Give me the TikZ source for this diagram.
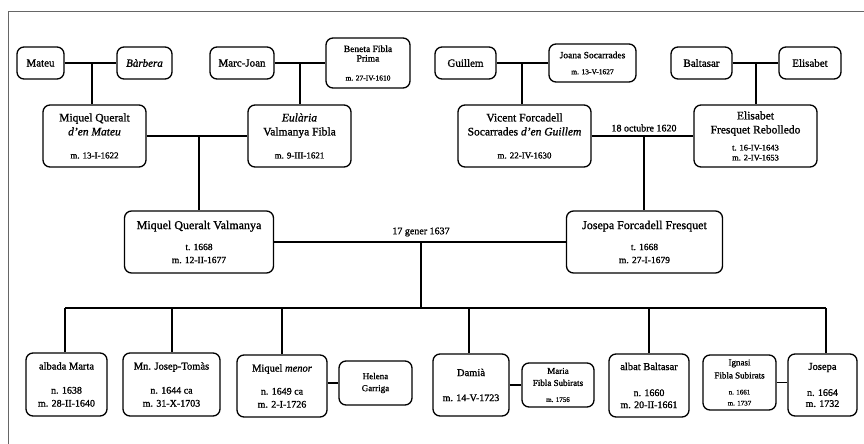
\documentclass[tikz,border=0pt]{standalone}
\usepackage{fontspec}
\setmainfont{Liberation Serif}[FakeBold=1.2]
\newcommand\fsz[2]{\fontsize{#1}{#2}\selectfont}
\begin{document}
\begin{tikzpicture}[x=1pt,y=-1pt,
  pbox/.style={draw, rounded corners=7pt, line width=1.3pt, align=center, inner sep=0pt},
  conn/.style={line width=1.3pt},
  frameline/.style={draw=gray!80!black, line width=0.9pt},
  mlabel/.style={font=\fsz{10}{12}, inner sep=0pt}]
\useasboundingbox (0,0) rectangle (864,444);
\draw[frameline] (8,444) -- (8,11) -- (864,11);

% ---- top row, left ----
\node[pbox, minimum width=47pt, minimum height=32pt, font=\fsz{11}{13}] (mateu) at (40.5,63) {Mateu};
\node[pbox, minimum width=55pt, minimum height=32pt, font=\fsz{11}{13}] (barbera) at (144.5,63) {\textit{Bàrbera}};
\node[pbox, minimum width=64pt, minimum height=32pt, font=\fsz{11}{13}] (marcjoan) at (242,63) {Marc-Joan};
\node[pbox, minimum width=84pt, minimum height=50pt, font=\fsz{9.5}{9.5}] (beneta) at (368,63) {Beneta Fibla\\Prima\\[9.5pt]{\fsz{7.5}{9}m. 27-IV-1610}};

\node[pbox, minimum width=103pt, minimum height=62pt, font=\fsz{11.5}{14}] (mqmateu) at (94.5,136) {Miquel Queralt\\\textit{d'en Mateu}\\[9pt]{\fsz{9}{11}m. 13-I-1622}};
\node[pbox, minimum width=103pt, minimum height=62pt, font=\fsz{11.5}{14}] (eularia) at (299.5,136) {\textit{Eulària}\\Valmanya Fibla\\[9pt]{\fsz{9}{11}m. 9-III-1621}};

% ---- top row, right ----
\node[pbox, minimum width=61pt, minimum height=32pt, font=\fsz{11}{13}] (guillem) at (465.5,63) {Guillem};
\node[pbox, minimum width=87pt, minimum height=38pt, font=\fsz{9.5}{10}] (joana) at (592.5,63) {Joana Socarrades\\[6pt]{\fsz{7.5}{9}m. 13-V-1627}};
\node[pbox, minimum width=61pt, minimum height=32pt, font=\fsz{11}{13}] (baltasar) at (701.5,63) {Baltasar};
\node[pbox, minimum width=62pt, minimum height=32pt, font=\fsz{11}{13}] (elisabet) at (810,63) {Elisabet};

\node[pbox, minimum width=133pt, minimum height=62pt, font=\fsz{11.5}{14}] (vicent) at (524.5,136) {Vicent Forcadell\\Socarrades \textit{d'en Guillem}\\[9pt]{\fsz{9}{11}m. 22-IV-1630}};
\node[pbox, minimum width=123pt, minimum height=62pt, font=\fsz{11.5}{14}] (elisabetfr) at (755.5,136) {Elisabet\\Fresquet Rebolledo\\[3pt]{\fsz{8.5}{10}t. 16-IV-1643}\\[-4pt]{\fsz{8.5}{10}m. 2-IV-1653}};

% ---- middle ----
\node[pbox, minimum width=149pt, minimum height=62pt, font=\fsz{12}{13}] (mqv) at (199,242) {Miquel Queralt Valmanya\\[8pt]{\fsz{9.5}{11}t. 1668}\\{\fsz{9.5}{11}m. 12-II-1677}};
\node[pbox, minimum width=156pt, minimum height=62pt, font=\fsz{12}{13}] (josepaff) at (644.5,242) {Josepa Forcadell Fresquet\\[8pt]{\fsz{9.5}{11}t. 1668}\\{\fsz{9.5}{11}m. 27-I-1679}};

% ---- children ----
\node[pbox, minimum width=81pt, minimum height=63pt, font=\fsz{10.5}{13}] (albada) at (66.5,384.5) {albada Marta\\[11pt]{\fsz{10}{12}n. 1638}\\{\fsz{10}{12}m. 28-II-1640}};
\node[pbox, minimum width=97pt, minimum height=63pt, font=\fsz{10.5}{13}] (josep) at (171.5,384.5) {Mn. Josep-Tomàs\\[11pt]{\fsz{10}{12}n. 1644 ca}\\{\fsz{10}{12}m. 31-X-1703}};
\node[pbox, minimum width=90pt, minimum height=62pt, font=\fsz{10.5}{13}] (miqmenor) at (282,386) {Miquel \textit{menor}\\[10pt]{\fsz{10}{12}n. 1649 ca}\\{\fsz{10}{12}m. 2-I-1726}};
\node[pbox, minimum width=73pt, minimum height=44pt, font=\fsz{9}{12}] (helena) at (375.5,383) {Helena\\Garriga};
\node[pbox, minimum width=76pt, minimum height=62pt, font=\fsz{10.5}{13}] (damia) at (471,385) {Damià\\[12pt]{\fsz{10}{12}m. 14-V-1723}};
\node[pbox, minimum width=72pt, minimum height=44pt, font=\fsz{9}{12}] (maria) at (558,385) {Maria\\Fibla Subirats\\[4pt]{\fsz{7}{8}m. 1756}};
\node[pbox, minimum width=80pt, minimum height=63pt, font=\fsz{10.5}{13}] (albat) at (649,385.5) {albat Baltasar\\[13pt]{\fsz{10}{12}n. 1660}\\[-1pt]{\fsz{10}{12}m. 20-II-1661}};
\node[pbox, minimum width=73pt, minimum height=55pt, font=\fsz{9}{13}] (ignasi) at (739.5,382.5) {Ignasi\\Fibla Subirats\\[3pt]{\fsz{7}{8}n. 1661}\\[-2pt]{\fsz{7}{8}m. 1737}};
\node[pbox, minimum width=69pt, minimum height=62pt, font=\fsz{10.5}{13}] (josepa) at (822.5,385) {Josepa\\[13pt]{\fsz{10}{12}n. 1664}\\[-2pt]{\fsz{10}{12}m. 1732}};

% ---- marriage labels ----
\node[mlabel] (l1620) at (644,128) {18 octubre 1620};
\node[mlabel] (l1637) at (421,232) {17 gener 1637};

% ---- connectors ----
\coordinate (j1) at (92,63);
\coordinate (j2) at (300,63);
\coordinate (j3) at (199,136);
\coordinate (j4) at (522,63);
\coordinate (j5) at (756,63);
\coordinate (j6) at (644,136);
\coordinate (j7) at (421,242);
\coordinate (busl) at (65,308);
\coordinate (busr) at (826,308);
\coordinate (busm) at (421,308);

\draw[conn] (mateu) -- (barbera);
\draw[conn] (j1) -- (j1 |- mqmateu.north);
\draw[conn] (marcjoan) -- (beneta);
\draw[conn] (j2) -- (j2 |- eularia.north);
\draw[conn] (mqmateu) -- (eularia);
\draw[conn] (j3) -- (j3 |- mqv.north);

\draw[conn] (guillem) -- (joana);
\draw[conn] (j4) -- (j4 |- vicent.north);
\draw[conn] (baltasar) -- (elisabet);
\draw[conn] (j5) -- (j5 |- elisabetfr.north);
\draw[conn] (vicent) -- (elisabetfr);
\draw[conn] (j6) -- (j6 |- josepaff.north);

\draw[conn] (mqv) -- (josepaff);
\draw[conn] (j7) -- (busm);
\draw[conn] (busl) -- (busr);
\draw[conn] (busl) -- (busl |- albada.north);
\draw[conn] (172,308) -- (172,308 |- josep.north);
\draw[conn] (282,308) -- (282,308 |- miqmenor.north);
\draw[conn] (469,308) -- (469,308 |- damia.north);
\draw[conn] (649,308) -- (649,308 |- albat.north);
\draw[conn] (busr) -- (busr |- josepa.north);

\draw[conn] (miqmenor.east |- helena.west) -- (helena.west);
\draw[conn] (damia) -- (maria);
\draw[conn] (ignasi.east) -- (josepa.west |- ignasi.east);
\end{tikzpicture}
\end{document}
